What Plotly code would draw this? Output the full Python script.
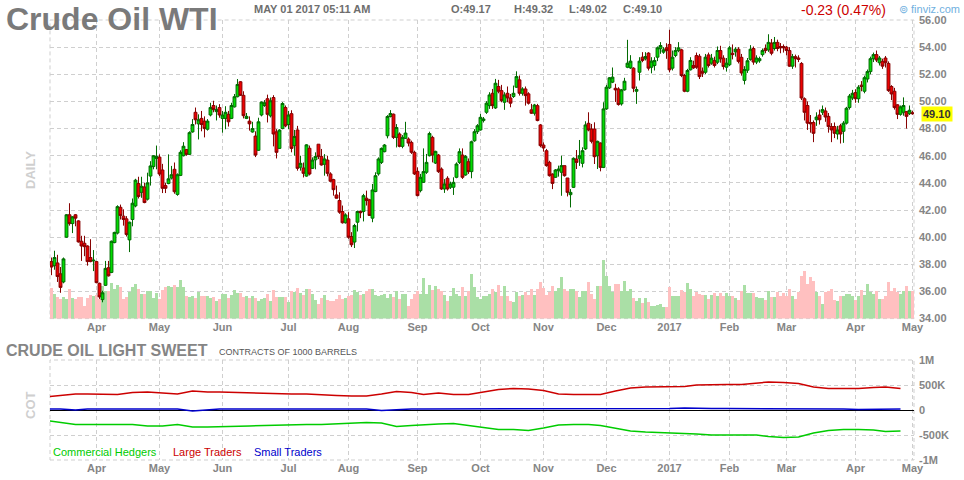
import pandas as pd
import plotly.graph_objects as go

# ---------------- text ----------------
TITLE = "Crude Oil WTI"
STAMP = "MAY 01 2017 05:11 AM"
QUOTE = ["O:49.17", "H:49.32", "L:49.02", "C:49.10"]
CHANGE = "-0.23 (0.47%)"
LAST_PRICE = 49.10
COT_TITLE = "CRUDE OIL LIGHT SWEET"
COT_UNITS = "CONTRACTS OF 1000 BARRELS"

# ---------------- calendar ----------------
FIRST_DAY = "2016-03-10"
LAST_DAY = "2017-05-01"
HOLIDAYS = ["2016-03-25", "2016-05-30", "2016-07-04", "2016-09-05", "2016-11-24",
            "2016-12-26", "2017-01-02", "2017-01-16", "2017-02-20", "2017-04-14"]
MONTH_TICKS = ["2016-04-01", "2016-05-02", "2016-06-01", "2016-07-01", "2016-08-01",
               "2016-09-01", "2016-10-03", "2016-11-01", "2016-12-01", "2017-01-03",
               "2017-02-01", "2017-03-01", "2017-04-03", "2017-05-01"]
MONTH_LABELS = ["Apr", "May", "Jun", "Jul", "Aug", "Sep", "Oct", "Nov", "Dec", "2017",
                "Feb", "Mar", "Apr", "May"]

# ---------------- daily prices (one row per month) ----------------
opens = [
 38.20,37.90,38.10,37.30,36.70,40.00,41.65,41.00,41.65,41.20,39.70,39.55,39.35,38.50,38.25,
 38.20,36.60,35.40,36.45,37.75,37.40,39.60,40.30,42.20,41.55,41.35,39.80,41.30,42.30,43.95,43.30,43.70,42.80,44.50,45.20,45.80,
 45.90,44.95,43.80,43.95,44.35,45.00,43.15,44.55,46.00,46.45,46.10,47.75,49.20,48.35,48.75,48.55,47.95,49.00,49.70,49.25,49.55,
 48.75,48.75,49.05,48.75,49.60,50.35,51.45,50.45,48.75,48.55,47.75,47.45,46.40,49.00,49.70,50.20,48.94,50.29,47.76,46.54,48.00,49.55,
 48.30,49.10,46.74,47.90,45.15,45.10,44.50,46.55,45.07,45.70,46.85,45.95,45.37,45.68,44.66,44.24,43.11,42.70,41.89,41.06,
 41.35,40.05,39.64,41.10,41.89,41.89,42.87,42.75,41.40,43.36,44.66,45.51,46.30,47.47,48.89,49.06,47.35,47.60,46.69,47.28,47.23,46.98,46.25,
 44.85,43.43,44.04,44.78,46.00,47.35,45.46,46.05,45.02,43.55,44.34,43.68,43.68,44.41,45.51,46.05,44.58,45.56,44.83,47.10,47.77,
 47.90,48.59,49.20,49.69,50.60,49.52,51.10,50.80,49.94,50.60,50.26,50.36,51.05,51.59,50.60,50.92,50.56,49.38,49.13,49.69,48.27,
 46.79,46.37,45.51,44.65,44.41,44.90,44.78,45.27,44.36,43.13,43.67,45.76,45.81,45.44,46.50,48.39,47.97,47.97,46.00,46.94,45.14,
 49.45,51.00,51.42,50.97,50.92,49.82,50.85,52.52,52.47,52.45,50.75,52.15,53.26,53.14,53.56,52.52,52.65,53.26,53.88,53.63,53.95,
 54.20,52.45,53.38,53.75,53.80,51.91,50.75,52.33,52.65,53.38,53.33,52.23,52.15,53.43,52.82,53.01,52.89,53.75,53.19,52.52,
 52.70,53.55,53.65,53.85,53.25,51.55,52.30,53.10,53.90,52.90,53.00,53.45,53.90,53.80,54.30,53.90,54.35,54.05,54.05,
 54.00,53.75,52.60,53.30,53.20,52.80,50.20,49.70,48.45,48.45,48.65,49.00,49.20,49.30,48.90,48.15,48.15,47.60,48.20,47.80,48.40,49.55,50.25,
 50.65,50.20,51.20,50.75,51.65,52.20,53.15,53.45,52.85,52.95,53.20,52.80,51.10,50.75,49.75,49.05,49.20,49.25,49.10,
 49.17,
]
highs = [
 38.50,39.00,38.70,37.80,38.50,41.70,42.50,41.55,41.70,41.25,40.10,40.10,39.40,39.85,39.05,
 38.25,36.65,36.05,38.25,38.25,39.75,40.40,42.35,42.40,42.05,41.55,41.15,42.85,44.30,44.45,44.45,44.00,44.75,45.60,46.05,46.75,
 46.10,45.40,44.00,46.10,45.25,45.50,44.70,46.40,47.00,46.50,47.80,48.70,49.55,49.05,49.30,48.90,48.70,49.90,50.05,49.70,49.80,
 49.30,49.65,49.30,49.90,50.55,51.65,51.50,50.75,49.15,48.90,48.50,47.80,48.80,50.00,50.10,50.50,50.29,50.46,47.96,47.95,49.95,49.70,
 49.30,49.35,47.90,48.20,46.00,45.50,46.85,46.75,45.88,46.25,46.86,46.50,46.12,46.00,44.78,44.30,43.80,43.31,42.33,41.76,
 41.84,40.37,40.98,41.96,41.96,43.19,43.43,42.82,43.92,44.78,45.88,46.61,46.86,48.99,49.36,49.11,48.33,47.72,47.52,48.50,47.35,47.11,46.37,
 45.14,44.66,46.54,46.13,47.77,47.47,46.37,46.13,45.14,44.28,44.49,44.09,44.41,45.51,46.54,46.54,46.05,45.80,47.11,47.96,48.33,
 49.08,48.85,50.02,50.68,50.92,51.66,51.59,51.22,50.68,51.10,50.55,51.17,52.22,51.91,51.05,51.10,50.68,49.82,49.82,49.82,48.34,
 46.98,46.50,45.63,44.70,45.02,45.27,46.00,45.27,44.36,43.54,45.88,46.42,47.16,46.62,48.54,49.20,48.34,48.46,47.11,46.98,49.94,
 51.22,51.80,52.50,51.30,51.05,50.92,51.74,54.54,53.41,52.52,51.10,53.26,53.63,53.63,53.63,53.26,53.26,54.05,54.37,54.00,54.29,
 55.28,53.75,54.00,54.37,53.88,52.03,52.40,53.26,53.00,53.60,53.50,52.50,53.50,53.60,53.50,53.30,54.05,54.10,53.40,53.20,
 54.10,54.20,54.00,54.00,53.50,52.60,53.20,54.15,54.05,53.40,53.30,53.90,54.20,54.95,54.60,54.75,54.55,54.30,54.20,
 54.10,54.00,53.50,53.45,53.40,52.90,50.30,50.00,49.00,48.60,49.20,49.40,49.70,49.55,49.15,48.40,48.45,48.20,48.35,48.55,49.60,50.55,50.85,
 50.90,51.20,51.50,51.90,52.35,53.30,53.60,53.75,53.35,53.15,53.35,52.95,51.20,51.00,49.80,49.70,50.30,49.30,49.70,
 49.32,
]
lows = [
 37.20,37.60,36.70,35.90,36.60,39.95,40.85,40.30,40.80,39.60,38.25,38.60,37.90,38.15,37.50,
 36.60,35.45,35.20,36.40,37.10,37.35,39.55,40.20,41.30,40.85,40.05,38.90,40.80,42.20,42.85,42.90,42.50,42.70,43.80,45.00,45.00,
 44.50,43.25,43.25,43.90,44.25,43.20,43.05,44.50,45.95,46.00,46.05,47.70,48.30,47.20,47.80,47.35,47.85,48.90,49.20,48.60,48.80,
 47.70,47.95,48.15,48.70,49.55,50.30,50.40,48.75,48.70,47.85,47.70,45.90,46.35,48.90,49.60,48.45,48.82,46.69,45.80,46.50,47.95,48.10,
 47.95,46.25,46.00,44.90,44.90,44.40,44.45,44.55,45.02,45.00,45.75,45.27,44.53,44.48,44.05,43.06,42.85,41.72,41.00,41.00,
 39.88,39.27,39.20,40.42,41.40,41.16,42.33,41.57,41.10,43.31,44.53,45.39,46.25,47.28,48.82,47.23,46.61,46.62,46.55,47.23,46.69,46.13,44.58,
 43.01,43.30,43.99,44.66,45.95,45.51,45.39,44.73,43.48,43.26,43.43,43.55,43.11,44.34,45.39,44.29,44.53,44.66,44.34,47.03,47.60,
 47.85,48.45,49.08,49.45,49.45,49.45,50.60,49.94,49.38,49.94,49.57,50.26,51.00,50.43,50.43,49.69,49.77,49.08,48.96,48.54,46.62,
 46.30,45.19,44.46,43.54,44.36,44.46,43.05,44.46,43.00,42.19,43.62,45.02,45.25,45.14,46.42,47.80,46.91,45.39,45.02,44.85,45.09,
 49.38,50.92,51.35,49.96,49.69,49.69,50.80,52.45,52.40,50.68,49.82,51.54,52.89,53.02,52.28,52.07,52.28,52.97,53.51,53.51,53.14,
 52.15,52.28,53.26,53.63,51.79,50.68,50.68,52.28,52.40,52.40,51.65,51.80,52.00,52.50,52.70,52.50,52.75,52.85,52.35,52.20,
 52.60,53.10,53.30,52.80,51.90,51.25,52.10,53.00,52.70,52.75,52.85,53.30,53.55,53.65,53.40,53.75,53.70,53.55,53.60,
 53.40,52.55,52.40,52.50,52.90,50.10,48.60,47.90,47.70,47.00,48.20,48.30,49.00,48.50,47.70,47.00,47.30,47.20,46.90,46.95,48.30,49.40,50.10,
 49.90,49.90,50.75,50.60,51.40,52.00,52.90,52.90,52.65,52.40,52.50,50.70,50.10,49.40,48.70,48.95,48.95,48.00,49.00,
 49.02,
]
closes = [
 37.80,38.50,37.10,36.30,38.40,41.65,41.00,41.50,41.40,39.65,39.35,39.30,38.20,38.20,38.30,
 36.65,35.60,35.90,37.70,37.15,39.70,40.35,42.25,41.60,41.30,40.20,41.10,42.50,44.20,43.00,43.75,42.55,44.00,45.25,46.00,45.95,
 44.65,43.60,43.60,44.30,44.60,43.35,44.60,46.25,46.70,46.10,47.70,48.30,48.65,48.65,48.30,48.00,48.55,49.55,49.40,49.40,49.00,
 49.00,49.20,48.50,49.70,50.35,51.25,50.45,48.95,48.90,48.35,48.00,46.05,48.50,49.95,49.90,49.05,50.05,47.60,46.25,47.89,49.85,48.20,
 49.00,46.54,47.42,45.07,45.44,44.70,46.80,44.65,45.68,45.95,45.95,45.32,45.76,44.70,44.12,43.50,42.87,41.84,41.06,41.64,
 40.00,39.44,40.86,41.89,41.80,43.06,42.70,41.60,43.48,44.53,45.76,46.54,46.79,48.89,49.11,47.35,48.08,46.69,47.35,47.67,46.93,46.25,44.66,
 43.06,44.41,44.83,45.51,47.64,46.05,46.32,44.83,43.55,43.92,43.55,43.92,44.04,45.39,46.30,44.41,45.95,44.83,47.03,47.77,48.21,
 48.83,48.71,49.87,50.48,49.69,51.34,50.75,50.06,50.48,50.26,49.87,50.60,51.83,50.60,50.92,50.43,49.87,49.13,49.74,48.59,46.74,
 46.57,45.27,44.53,43.96,44.95,45.02,45.27,44.53,43.30,43.30,45.81,45.51,46.00,46.37,48.27,47.90,47.06,45.93,47.06,45.14,49.45,
 51.05,51.74,51.79,50.85,49.77,50.85,51.49,52.82,52.97,50.97,50.88,52.97,53.02,53.31,52.45,52.97,53.02,53.95,54.12,53.80,53.75,
 52.33,53.26,53.75,53.95,51.91,50.75,52.28,53.02,52.47,52.52,51.83,52.08,53.26,52.65,53.19,52.65,53.75,53.14,52.57,52.82,
 53.95,53.45,53.85,52.95,52.10,52.35,53.00,53.85,52.90,53.20,53.15,53.75,53.75,54.35,53.55,54.35,53.90,53.95,53.95,
 53.75,52.60,53.30,53.15,53.10,50.25,49.20,48.40,48.35,47.65,48.85,48.65,49.40,48.85,48.15,47.90,47.65,47.90,47.60,48.40,49.50,50.40,50.60,
 50.20,51.05,51.10,51.75,52.20,53.15,53.45,53.05,53.20,52.60,52.85,50.80,50.55,49.55,49.05,49.60,49.70,48.90,49.35,
 49.10,
]
# daily volume, thousands of contracts
volumes = [
 620,500,440,400,440,400,600,420,400,440,440,260,420,480,460,
 480,400,660,560,560,720,600,680,640,400,440,540,640,700,600,500,500,560,560,420,520,
 400,580,640,660,640,680,640,780,640,460,440,460,420,540,460,460,460,420,440,360,400,
 500,500,420,480,580,520,520,440,460,420,460,420,360,400,420,500,360,580,440,440,440,440,
 340,560,540,620,520,480,600,600,500,380,300,420,480,380,360,360,400,480,400,420,
 460,480,580,540,480,500,560,600,600,480,460,480,500,420,500,440,560,400,500,500,260,400,500,
 560,500,820,500,680,580,660,600,560,480,360,460,620,500,460,640,460,560,900,640,440,
 400,460,460,500,600,540,680,460,660,460,360,340,540,460,480,540,480,600,480,600,740,
 620,480,540,660,560,620,840,600,560,600,600,560,440,560,560,740,500,400,660,660,1180,
 860,660,540,700,700,560,760,560,600,420,360,420,320,420,340,260,260,280,300,240,240,
 640,460,460,460,580,540,720,600,460,540,500,480,480,400,480,520,460,520,460,520,
 460,460,420,380,560,680,520,520,520,440,420,420,380,560,440,440,540,460,520,
 460,600,460,400,540,860,960,700,840,760,540,460,300,540,560,600,380,360,460,460,500,500,460,
 380,460,580,480,700,540,500,560,400,400,460,740,560,620,540,500,560,660,560,
 560,
]

# ---------------- weekly COT positions (thousands of contracts) ----------------
COT_FIRST = "2016-03-08"
large_traders = [
 260,290,320,320,310,310,350,360,340,320,380,360,360,350,350,340,330,320,320,300,
 290,280,280,320,370,350,310,340,310,310,360,410,430,420,390,320,310,310,310,380,
 440,460,460,460,470,500,510,510,510,530,560,550,530,460,430,430,430,450,460,430,
]
commercial_hedgers = [
 -210,-250,-290,-290,-290,-280,-290,-320,-320,-290,-340,-340,-330,-330,-320,-310,-300,-290,-290,-290,
 -280,-270,-250,-260,-330,-310,-290,-280,-270,-310,-360,-390,-390,-410,-360,-300,-290,-290,-310,-370,
 -420,-440,-450,-450,-460,-480,-500,-500,-500,-500,-530,-550,-540,-460,-410,-390,-390,-400,-430,-420,
]
small_traders = [
 20,20,0,20,20,20,20,20,20,20,-20,10,20,20,20,20,20,20,20,20,
 30,30,20,-10,10,20,20,20,20,20,20,20,20,30,30,20,20,20,20,30,
 30,30,30,30,40,30,30,30,30,30,30,30,30,30,30,20,10,10,20,20,
]
COT_TICKS = [1000, 500, 0, -500, -1000]
COT_TICK_LABELS = ["1M", "500K", "0", "-500K", "-1M"]

days = pd.bdate_range(FIRST_DAY, LAST_DAY, freq="C", holidays=HOLIDAYS)
n = len(days)
for name, arr in [("opens", opens), ("highs", highs), ("lows", lows), ("closes", closes), ("volumes", volumes)]:
    assert len(arr) == n, f"{name}: {len(arr)} != {n}"
cot_dates = pd.date_range(COT_FIRST, periods=len(large_traders), freq="W-TUE")

# ---------------- styling ----------------
GRID = "#cfcfcf"
DASH = "4px,3px"
AXIS_TXT = "#858585"
FONT = "Arial, Liberation Sans, sans-serif"
UP_FILL, UP_LINE = "#00dc00", "#006a00"
DN_FILL, DN_LINE = "#ee0000", "#860000"
VOL_UP, VOL_DN = "#aadfa6", "#ffc0c0"

W, H = 964, 480
ML, MR, MT, MB = 50, 50, 20, 20
PW, PH = W - ML - MR, H - MT - MB
def px_x(p):
    return (p - ML) / PW
def px_y(p):
    return (H - MB - p) / PH

PRICE_BOTTOM = px_y(318.6)
COT_TOP = px_y(360.0)

rangebreaks = [dict(bounds=["sat", "mon"]), dict(values=HOLIDAYS)]
x_range = ["2016-03-09 12:00", "2017-05-01 12:00"]

vol_colors = [VOL_UP if c >= o else VOL_DN for o, c in zip(opens, closes)]

fig = go.Figure()
fig.add_trace(go.Bar(x=days, y=volumes, marker=dict(color=vol_colors, line=dict(width=0)),
                     xaxis="x", yaxis="y", hoverinfo="skip"))
fig.add_trace(go.Candlestick(
    x=days, open=opens, high=highs, low=lows, close=closes, xaxis="x", yaxis="y3",
    increasing=dict(line=dict(color=UP_LINE, width=1), fillcolor=UP_FILL),
    decreasing=dict(line=dict(color=DN_LINE, width=1), fillcolor=DN_FILL),
    whiskerwidth=0))

fig.add_trace(go.Scatter(x=cot_dates, y=small_traders, mode="lines",
                         line=dict(color="#0000cc", width=1.5), xaxis="x2", yaxis="y2"))
fig.add_trace(go.Scatter(x=cot_dates, y=commercial_hedgers, mode="lines",
                         line=dict(color="#00cc00", width=1.5), xaxis="x2", yaxis="y2"))
fig.add_trace(go.Scatter(x=cot_dates, y=large_traders, mode="lines",
                         line=dict(color="#cc0000", width=1.5), xaxis="x2", yaxis="y2"))

xcommon = dict(type="date", range=x_range, rangebreaks=rangebreaks, automargin=False,
               tickmode="array", tickvals=MONTH_TICKS, ticktext=MONTH_LABELS,
               showgrid=True, gridcolor=GRID, griddash=DASH, gridwidth=1,
               ticks="", showline=False, zeroline=False,
               tickfont=dict(size=11, color=AXIS_TXT, family=FONT, weight="bold"))

fig.update_layout(
    template="none",
    width=W, height=H, margin=dict(l=ML, r=MR, t=MT, b=MB, autoexpand=False),
    paper_bgcolor="white", plot_bgcolor="white", showlegend=False,
    bargap=0, boxgap=0.05, boxgroupgap=0, font=dict(family=FONT),
    xaxis=dict(domain=[0, 1], anchor="y", rangeslider=dict(visible=False), **xcommon),
    yaxis=dict(domain=[PRICE_BOTTOM, 1], range=[0, 5972], visible=False, fixedrange=True,
               automargin=False),
    yaxis3=dict(overlaying="y", anchor="x", side="right", range=[34, 56], tick0=34, dtick=2,
                tickformat=".2f", showgrid=True, gridcolor=GRID, griddash=DASH, gridwidth=1,
                ticks="", zeroline=False, showline=False, automargin=False,
                ticklabelstandoff=4,
                tickfont=dict(size=11, color=AXIS_TXT, family=FONT, weight="bold")),
    xaxis2=dict(domain=[0, 1], anchor="y2", **xcommon),
    yaxis2=dict(domain=[0, COT_TOP], anchor="x2", side="right", range=[-1000, 1000],
                tickmode="array", tickvals=COT_TICKS, ticktext=COT_TICK_LABELS,
                showgrid=True, gridcolor=GRID, griddash=DASH, gridwidth=1,
                zeroline=True, zerolinecolor="#000000", zerolinewidth=1,
                ticks="", showline=False, automargin=False, ticklabelstandoff=4,
                tickfont=dict(size=11, color=AXIS_TXT, family=FONT, weight="bold")),
)

border = dict(color=GRID, width=1, dash=DASH)
fig.add_shape(type="rect", xref="paper", yref="paper", x0=0, x1=1, y0=PRICE_BOTTOM, y1=1,
              line=border, layer="below")
fig.add_shape(type="rect", xref="paper", yref="paper", x0=0, x1=1, y0=0, y1=COT_TOP,
              line=border, layer="below")

def note(text, px, py, size, color, bold=False, anchor="left", angle=0, **kw):
    fig.add_annotation(text=text, xref="paper", yref="paper", x=px_x(px), y=px_y(py),
                       xanchor=anchor, yanchor="middle", showarrow=False, textangle=angle,
                       font=dict(size=size, color=color, family=FONT,
                                 weight="bold" if bold else "normal"), **kw)

note(TITLE, 4, 19.5, 32, "#7a7a7a", bold=True)
note(STAMP, 252, 9.5, 11, "#6e6e6e", bold=True)
for txt, px in zip(QUOTE, [449, 512, 567, 621]):
    note(txt, px, 9.5, 11, "#6e6e6e", bold=True)
note(CHANGE, 799, 10, 14, "#cc0000")
note("\u229a finviz.com", 897, 9.5, 11, "#6fb0e0")
note("DAILY", 30, 170, 13, "#cfcfcf", bold=True, anchor="center", angle=-90)
note(COT_TITLE, 4, 351, 16, "#858585", bold=True)
note(COT_UNITS, 217, 352, 9, "#555555")
note("COT", 30, 405, 13, "#cfcfcf", bold=True, anchor="center", angle=-90)
note("Commercial Hedgers", 51, 452, 11, "#00cc00")
note("Large Traders", 171, 452, 11, "#cc0000")
note("Small Traders", 252, 452, 11, "#0000cc")

fig.add_annotation(text=f"{LAST_PRICE:.2f}", xref="paper", yref="y3", x=1, y=LAST_PRICE,
                   xanchor="left", yanchor="middle", xshift=7, showarrow=False,
                   bgcolor="#ffff00", borderpad=1,
                   font=dict(size=11, color="#333333", family=FONT, weight="bold"))

fig.write_html("out.html", config={"displayModeBar": False}, post_script=(
    "document.body.style.margin='0';document.body.style.padding='0';"
    "document.documentElement.style.overflow='hidden';"))
